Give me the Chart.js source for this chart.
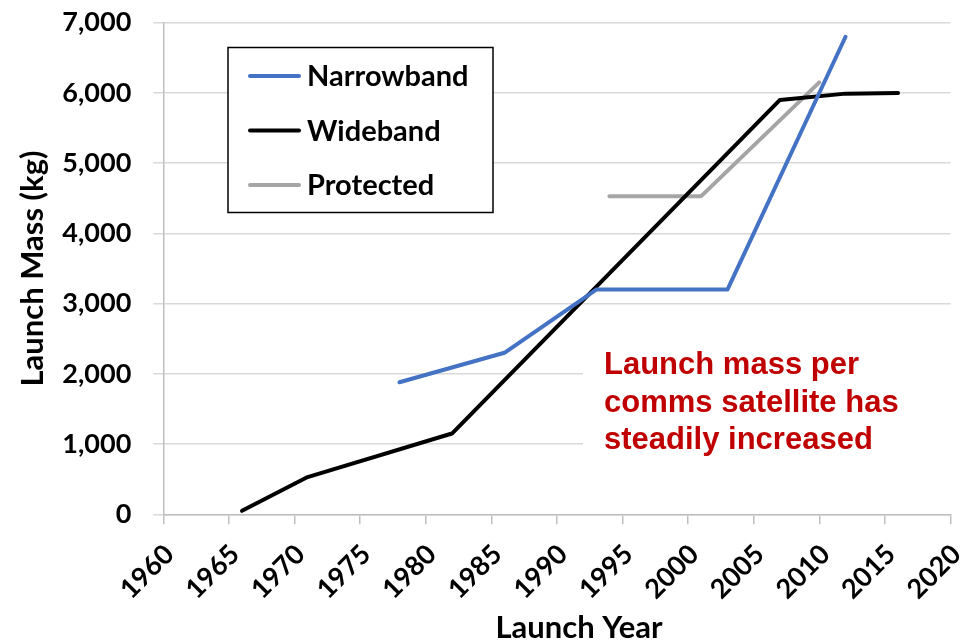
<!DOCTYPE html>
<html>
<head>
<meta charset="utf-8">
<title>Launch Mass</title>
<style>
  body { margin: 0; background: #fff; }
  #wrap { width: 967px; height: 643px; }
</style>
</head>
<body>
<div id="wrap">
  <canvas id="myChart" width="967" height="643"></canvas>
</div>
<script src="https://cdn.jsdelivr.net/npm/chart.js@4.4.1/dist/chart.umd.min.js"></script>
<script>
// data
var narrowYears = [1978, 1986, 1993, 2003, 2012];
var narrowMass  = [1880, 2300, 3200, 3200, 6800];

var wideYears = [1966, 1971, 1982, 2007, 2012, 2016];
var wideMass  = [50, 530, 1150, 5900, 5990, 6000];

var protYears = [1994, 2001, 2010];
var protMass  = [4530, 4530, 6150];

var seriesNames = ['Narrowband', 'Wideband', 'Protected'];
var seriesColors = ['#4472C4', '#000000', '#A5A5A5'];
var note = ['Launch mass per', 'comms satellite has', 'steadily increased'];
var xTitle = 'Launch Year';

function pts(xs, ys) {
  var out = [];
  for (var i = 0; i < xs.length; i++) out.push({x: xs[i], y: ys[i]});
  return out;
}

function ds(i, xs, ys) {
  return {
    label: seriesNames[i],
    data: pts(xs, ys),
    borderColor: seriesColors[i],
    backgroundColor: seriesColors[i],
    borderWidth: 4,
    pointRadius: 0,
    borderCapStyle: 'round',
    borderJoinStyle: 'round',
    tension: 0,
    fill: false
  };
}

// legend box, text note and x title
var extras = {
  id: 'extras',
  beforeDatasetsDraw: function(chart) {
    var ctx = chart.ctx;
    ctx.save();
    // note box hides the grid behind it
    ctx.fillStyle = '#fff';
    ctx.fillRect(583, 310, 372, 196);
    ctx.fillStyle = '#C00000';
    ctx.font = 'bold 31px "Liberation Sans", Arial, sans-serif';
    ctx.textBaseline = 'alphabetic';
    ctx.textAlign = 'left';
    for (var i = 0; i < note.length; i++) {
      ctx.fillText(note[i], 604, 374 + i * 37.5);
    }

    // legend
    ctx.fillStyle = '#fff';
    ctx.fillRect(228, 47.5, 265, 165);
    ctx.strokeStyle = '#000';
    ctx.lineWidth = 1.5;
    ctx.strokeRect(228, 47.5, 265, 165);
    ctx.font = 'bold 29px Lato, sans-serif';
    ctx.textBaseline = 'middle';
    var rowY = [76, 130.5, 185];
    for (var j = 0; j < seriesNames.length; j++) {
      ctx.strokeStyle = seriesColors[j];
      ctx.lineWidth = 4;
      ctx.lineCap = 'round';
      ctx.beginPath();
      ctx.moveTo(250, rowY[j]);
      ctx.lineTo(299, rowY[j]);
      ctx.stroke();
      ctx.fillStyle = '#000';
      ctx.fillText(seriesNames[j], 307, rowY[j] + 1);
    }

    // x axis title (sits a bit right of the plot centre in the original)
    ctx.fillStyle = '#000';
    ctx.font = 'bold 31px Lato, sans-serif';
    ctx.textAlign = 'center';
    ctx.textBaseline = 'alphabetic';
    ctx.fillText(xTitle, 579, 638);
    ctx.restore();
  }
};

var ctx = document.getElementById('myChart').getContext('2d');
var chart = new Chart(ctx, {
  type: 'line',
  data: {
    datasets: [
      ds(0, narrowYears, narrowMass),
      ds(1, wideYears, wideMass),
      ds(2, protYears, protMass)
    ]
  },
  options: {
    responsive: false,
    animation: false,
    layout: { padding: { left: 0, right: 16.5, top: 22.7, bottom: 0 } },
    plugins: {
      legend: { display: false },
      tooltip: { enabled: false }
    },
    scales: {
      x: {
        type: 'linear',
        min: 1960,
        max: 2020,
        afterFit: function(s) {
          s.height = 128.7;
          s.paddingLeft = 0;
          s.paddingRight = 0;
        },
        border: { color: '#bfbfbf', width: 1.5 },
        grid: { drawOnChartArea: false, drawTicks: true, tickLength: 10, color: '#bfbfbf', lineWidth: 1.5 },
        ticks: {
          stepSize: 5,
          autoSkip: false,
          minRotation: 45,
          maxRotation: 45,
          padding: 14,
          labelOffset: 6,
          color: '#000',
          font: { family: 'Lato', weight: 'bold', size: 27 },
          callback: function(v) { return String(v); }
        },
        title: { display: false }
      },
      y: {
        min: 0,
        max: 7000,
        afterFit: function(s) {
          s.width = 163.3;
          s.paddingTop = 10;
          s.paddingBottom = 10;
        },
        border: { color: '#bfbfbf', width: 1.5 },
        grid: { color: '#d9d9d9', lineWidth: 1.5, drawTicks: true, tickLength: 10 },
        ticks: {
          stepSize: 1000,
          padding: 22,
          color: '#000',
          font: { family: 'Lato', weight: 'bold', size: 27 },
          callback: function(v) { return v.toLocaleString('en-US'); }
        },
        title: {
          display: true,
          text: 'Launch Mass (kg)',
          color: '#000',
          padding: { top: 17, bottom: 0 },
          font: { family: 'Lato', weight: 'bold', size: 31, lineHeight: 1 }
        }
      }
    }
  },
  plugins: [extras]
});
</script>
</body>
</html>
